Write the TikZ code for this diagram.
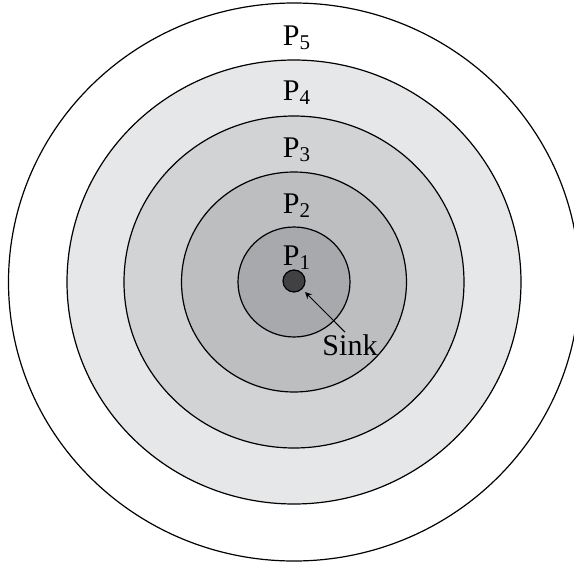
\documentclass[tikz,border=0pt]{standalone}
\usepackage{fontspec}
\setmainfont{Liberation Serif}
\usepackage{tikz}
\definecolor{ring1}{HTML}{A7A9AC}
\definecolor{ring2}{HTML}{BCBEC0}
\definecolor{ring3}{HTML}{D1D3D4}
\definecolor{ring4}{HTML}{E6E7E8}
\definecolor{ring5}{HTML}{FFFFFF}
\definecolor{sinkcol}{HTML}{414042}
\tikzset{every node/.append style={font=\fontsize{15}{17}\selectfont}}

\begin{document}
\begin{tikzpicture}[>=stealth, x=0.5pt, y=0.5pt,
    ring/.style={draw=black, line width=0.6pt},
    lab/.style={anchor=base, inner sep=0pt},
    sinkdot/.style={circle, draw=black, line width=0.6pt, fill=sinkcol, minimum size=11pt, inner sep=0pt}]
    \useasboundingbox (-294,-287) rectangle (280,282);
    % rings, outer first
    \foreach \i/\rx/\ry in {5/285.5/279, 4/227/222, 3/170/166, 2/112.5/110, 1/56/55}
        \draw[ring, fill=ring\i] (0,0) ellipse [x radius=\rx, y radius=\ry];
    % ring labels
    \foreach \i/\y in {5/237, 4/182, 3/125, 2/69, 1/17}
        \node[lab] (p\i) at (3,\y) {P\textsubscript{\i}};
    % sink
    \node[sinkdot] (dot) at (0,1) {};
    \node[inner sep=1pt] (sink) at (56,-63) {Sink};
    \draw[->, line width=0.5pt, shorten >=2pt] ([xshift=-2.5pt]sink.north) -- (dot);
\end{tikzpicture}
\end{document}
